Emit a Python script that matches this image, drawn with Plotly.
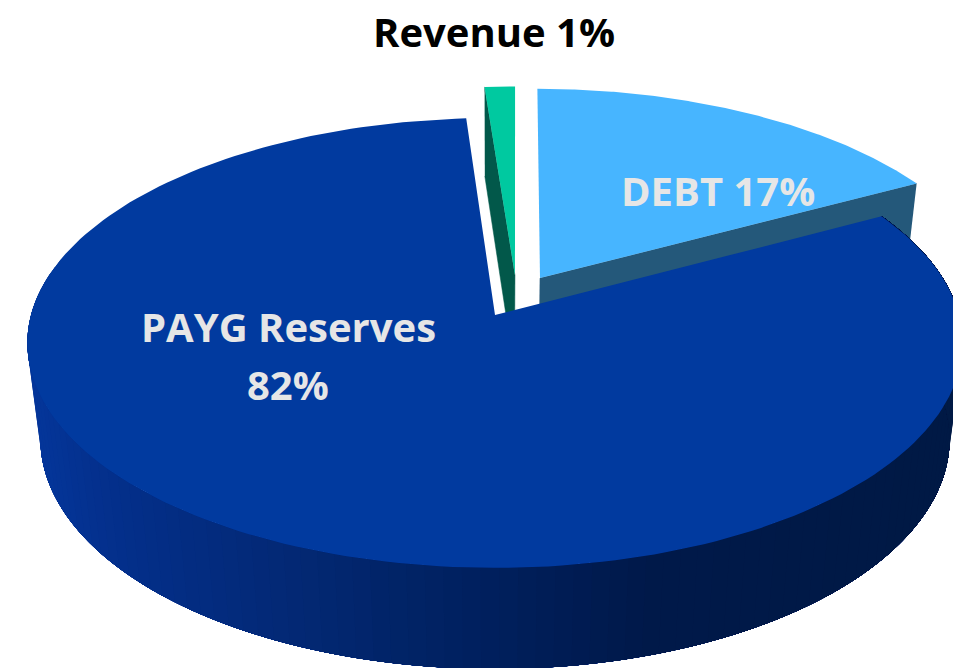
import numpy as np
import plotly.graph_objects as go

# Data (labels show the rounded shares)
categories = ["PAYG Reserves", "DEBT", "Revenue"]
shares = [81.7, 17.1, 1.2]
label_texts = ["PAYG Reserves", "82%", "DEBT 17%", "Revenue 1%"]

# Pie layout and style
START_ANGLE = 94.0
explode = {"PAYG Reserves": (0.0, 0.0), "DEBT": (0.099, 0.17), "Revenue": (0.044, 0.183)}
top_color = {"PAYG Reserves": "#013a9f", "DEBT": "#47b5ff", "Revenue": "#00c9a0"}
wall_color = {"DEBT": "#24587a", "Revenue": "#02584a"}

W, H = 953, 668
CX, CY, A, B, D, K, M = 495, 315, 464, 221.5, 98.5, 0.124, 0.028


def project(x, y, depth):
    """Perspective projection of a pie-plane point; depth 0=top face, 1=bottom face."""
    w = 1 + K * y + M * depth
    return CX + A * x / w, CY + (-B * y + D * depth) / w


def side_rgb(px):
    xs = [30, 100, 300, 500, 640, 953]
    rs = [5, 4, 3, 0, 0, 1]
    gs = [54, 48, 40, 31, 25, 26]
    bs = [154, 140, 114, 91, 74, 69]
    return "rgb(%d,%d,%d)" % (np.interp(px, xs, rs), np.interp(px, xs, gs), np.interp(px, xs, bs))


# Slice angles derived from the shares
spans = {}
a = START_ANGLE
for name, s in zip(categories, shares):
    spans[name] = (a, a + s / sum(shares) * 360)
    a = spans[name][1]

fig = go.Figure()


def poly(xs, ys, color, line=0):
    fig.add_trace(go.Scatter(
        x=list(xs), y=list(ys), mode="lines", fill="toself", fillcolor=color,
        line=dict(color=color, width=line), hoverinfo="skip", showlegend=False))


def rim(name, depth=0, n=200):
    a0, a1 = spans[name]
    dx, dy = explode[name]
    t = np.radians(np.linspace(a0, a1, n))
    return project(dx + np.cos(t), dy + np.sin(t), depth)


def radial_wall(name, angle):
    dx, dy = explode[name]
    t = np.radians(angle)
    rx, ry = dx + np.cos(t), dy + np.sin(t)
    pts = [project(rx, ry, 0), project(dx, dy, 0), project(dx, dy, 1), project(rx, ry, 1)]
    poly([p[0] for p in pts], [p[1] for p in pts], wall_color[name], 0.5)


def top_face(name):
    dx, dy = explode[name]
    rx, ry = rim(name)
    ax, ay = project(dx, dy, 0)
    poly(np.r_[ax, rx, ax], np.r_[ay, ry, ay], top_color[name])


# Back to front: revenue, debt, then the large slice
radial_wall("Revenue", spans["Revenue"][1])
top_face("Revenue")
radial_wall("DEBT", spans["DEBT"][0])
top_face("DEBT")

# Side band: each band reaches to the slice's end and is painted over by the next one,
# so that no seams appear between neighbouring shades.
a0, a1 = spans["PAYG Reserves"]
edges = np.linspace(max(a0, 165), a1, 111)
for t0 in edges[:-1]:
    tt = np.radians(np.linspace(t0, a1, 160))
    ux, uy = np.cos(tt), np.sin(tt)
    tx, ty = project(ux, uy, 0)
    bx, by = project(ux, uy, 1)
    poly(np.r_[tx, bx[::-1]], np.r_[ty, by[::-1]], side_rgb(float(tx[0])))
top_face("PAYG Reserves")

label_pos = [(288, 326), (288, 384), (718, 190), (494, 31)]
label_colors = ["#e6e6e6", "#e6e6e6", "#e6e6e6", "#000000"]
for txt, (lx, ly), col in zip(label_texts, label_pos, label_colors):
    fig.add_annotation(x=lx, y=ly, text="<b>%s</b>" % txt, showarrow=False,
                       xanchor="center", yanchor="middle",
                       font=dict(family="Open Sans", size=40, color=col))

fig.update_xaxes(range=[0, W], visible=False, fixedrange=True)
fig.update_yaxes(range=[H, 0], visible=False, fixedrange=True)
fig.update_layout(width=W, height=H, margin=dict(l=0, r=0, t=0, b=0),
                  paper_bgcolor="white", plot_bgcolor="white")
fig.write_html("out.html", config={"displayModeBar": False},
               post_script="document.body.style.margin='0';document.documentElement.style.overflow='hidden';")
